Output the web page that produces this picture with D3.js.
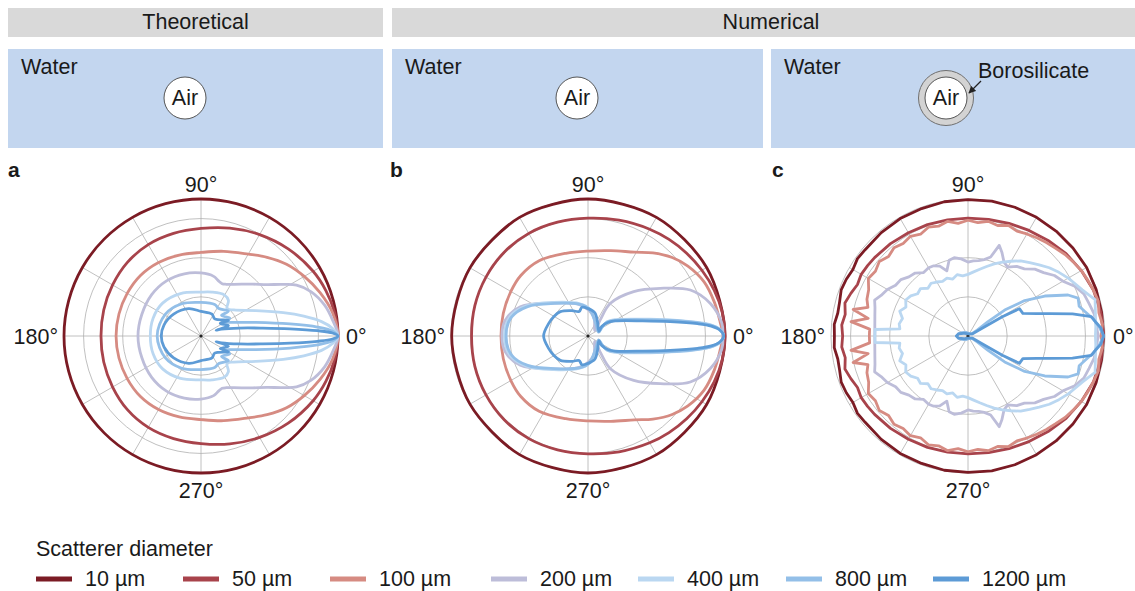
<!DOCTYPE html>
<html>
<head>
<meta charset="utf-8">
<script src="https://cdn.jsdelivr.net/npm/d3@7/dist/d3.min.js"></script>
<style>
  body { margin: 0; background: #fff; }
  text { font-family: "Liberation Sans", Arial, sans-serif; fill: #1a1a1a; }
</style>
</head>
<body>
<div id="chart"></div>
<script>
// Data
//================================
var diameters = ["10 µm", "50 µm", "100 µm", "200 µm", "400 µm", "800 µm", "1200 µm"];
var panelTitles = ["Theoretical", "Numerical"];
var panelLetters = ["a", "b", "c"];
var angleTicks = [0, 90, 180, 270];
var spokeAngles = [0, 30, 60, 90, 120, 150, 180, 210, 240, 270, 300, 330];
// rings at -30, -20, -10, 0 dB on a -35..0 dB axis (relative radius)
var ringLevels = [2 / 7, 4 / 7, 6 / 7, 1];

// each curve: [angle in degrees, relative radius] from 0 to 180 (pattern is mirror symmetric)
// a: theoretical
var theo10 = [[0, 1], [15, 1], [30, 1], [45, 1], [60, 1], [75, 1], [90, 1], [105, 1], [120, 1], [135, 1], [150, 1], [165, 1], [180, 1]];
var theo50 = [[0, 1], [10, 0.99], [20, 0.97], [30, 0.945], [45, 0.9], [60, 0.855], [75, 0.815], [90, 0.785], [105, 0.775], [120, 0.77], [135, 0.76], [150, 0.745], [165, 0.735], [180, 0.73]];
var theo100 = [[0, 1], [10, 0.975], [20, 0.925], [30, 0.87], [40, 0.815], [50, 0.75], [60, 0.69], [75, 0.64], [90, 0.61], [105, 0.612], [120, 0.62], [135, 0.625], [150, 0.622], [165, 0.62], [180, 0.62]];
var theo200 = [[0, 1], [7, 0.967], [14, 0.93], [22, 0.865], [28, 0.79], [32, 0.71], [38, 0.61], [45, 0.535], [52, 0.48], [58, 0.445], [64, 0.42], [68, 0.412], [73, 0.425], [78, 0.445], [90, 0.46], [105, 0.47], [122, 0.475], [140, 0.47], [160, 0.46], [180, 0.46]];
var theo400 = [[0, 1], [3.3, 0.962], [6.8, 0.886], [10.9, 0.764], [15.8, 0.624], [24.8, 0.441], [38.4, 0.306], [46.5, 0.276], [52.4, 0.328], [60.5, 0.345], [76, 0.33], [90, 0.32], [115.8, 0.344], [139.4, 0.369], [159.6, 0.373], [180, 0.37]];
var theo800 = [[0, 1], [2.1, 0.961], [4.4, 0.852], [7.7, 0.656], [14, 0.412], [24.4, 0.242], [31.7, 0.2], [31.8, 0.247], [45, 0.212], [42, 0.269], [57, 0.239], [66.5, 0.251], [90, 0.245], [120.8, 0.274], [148.4, 0.305], [180, 0.32]];
var theo1200 = [[0, 1], [1.3, 0.96], [2.6, 0.851], [4.6, 0.652], [7.3, 0.454], [11.7, 0.286], [18.4, 0.158], [20.9, 0.118], [20.6, 0.214], [33.3, 0.168], [29.9, 0.231], [51.3, 0.16], [63.4, 0.179], [90, 0.18], [114.2, 0.219], [141.3, 0.256], [163.5, 0.282], [180, 0.29]];

// b: numerical, air bubble
var num10 = [[0, 1], [15, 0.995], [30, 1], [45, 0.995], [60, 1], [75, 0.995], [90, 1], [105, 0.995], [120, 1], [135, 0.99], [150, 0.995], [165, 0.99], [180, 0.995]];
var num50 = [[0, 1], [10, 0.995], [20, 0.98], [30, 0.96], [40, 0.94], [50, 0.92], [60, 0.9], [75, 0.875], [90, 0.86], [105, 0.86], [120, 0.865], [135, 0.865], [150, 0.86], [165, 0.855], [180, 0.85]];
var num100 = [[0, 0.985], [6, 0.97], [15, 0.955], [25, 0.935], [35, 0.89], [43, 0.84], [52, 0.77], [61, 0.7], [75, 0.645], [90, 0.62], [105, 0.625], [123, 0.655], [138, 0.66], [150, 0.65], [165, 0.64], [180, 0.635]];
var num200 = [[0, 0.985], [5.4, 0.982], [14.9, 0.924], [24.2, 0.819], [33.4, 0.632], [44.2, 0.465], [55.6, 0.289], [53, 0.15], [38.7, 0.064], [73.8, 0.147], [104, 0.233], [139, 0.364], [156.6, 0.538], [169, 0.614], [180, 0.628]];
var num400 = [[0, 0.99], [3, 0.961], [5.1, 0.904], [7.1, 0.806], [10, 0.66], [15.2, 0.466], [31, 0.233], [36.9, 0.175], [31, 0.117], [20.6, 0.085], [56.3, 0.108], [87, 0.2], [104.3, 0.243], [135.6, 0.35], [153.9, 0.5], [166.2, 0.587], [180, 0.61]];
var num800 = [[0, 0.99], [2.9, 0.961], [4.9, 0.903], [6.9, 0.806], [9.8, 0.66], [14.7, 0.465], [30, 0.228], [36, 0.17], [30, 0.112], [20, 0.082], [57, 0.105], [87, 0.195], [104, 0.238], [136, 0.342], [154, 0.49], [166.5, 0.577], [180, 0.598]];
var num1200 = [[0, 0.99], [2.7, 0.961], [4.6, 0.903], [6.4, 0.805], [9.9, 0.609], [15.4, 0.415], [28.8, 0.228], [33.7, 0.18], [35, 0.122], [23.6, 0.087], [55, 0.122], [73.6, 0.177], [90, 0.2], [101.9, 0.214], [110, 0.19], [122.3, 0.219], [138.6, 0.269], [150.6, 0.287], [162.2, 0.301], [180, 0.324]];

// c: numerical, air in borosilicate shell
var shell10 = [[0, 0.99], [10, 0.99], [20, 0.995], [30, 1], [40, 1], [50, 1], [60, 1], [70, 1], [80, 1], [90, 0.995], [100, 0.995], [110, 0.99], [120, 0.99], [130, 0.985], [140, 0.98], [145, 0.985], [150, 0.97], [155, 0.98], [160, 0.985], [165, 0.97], [170, 0.965], [175, 0.98], [180, 0.975]];
var shell50 = [[0, 0.99], [10, 0.985], [20, 0.975], [30, 0.955], [40, 0.935], [50, 0.91], [60, 0.89], [70, 0.875], [80, 0.865], [90, 0.86], [100, 0.86], [110, 0.865], [120, 0.87], [130, 0.88], [140, 0.89], [145, 0.895], [150, 0.9], [155, 0.89], [160, 0.91], [165, 0.93], [170, 0.91], [175, 0.925], [180, 0.915]];
var shell100 = [[0, 0.97], [5, 0.985], [10, 0.97], [15, 0.985], [20, 0.975], [25, 0.965], [30, 0.955], [35, 0.94], [40, 0.925], [45, 0.905], [50, 0.89], [55, 0.875], [60, 0.86], [65, 0.845], [70, 0.86], [75, 0.835], [80, 0.85], [85, 0.83], [90, 0.845], [95, 0.825], [100, 0.85], [105, 0.83], [110, 0.845], [115, 0.82], [120, 0.84], [125, 0.825], [130, 0.84], [135, 0.82], [140, 0.845], [145, 0.825], [150, 0.84], [155, 0.8], [160, 0.785], [164, 0.76], [167, 0.86], [170, 0.74], [173, 0.86], [176, 0.72], [180, 0.72]];
var shell200 = [[0, 0.95], [5, 0.94], [10, 0.935], [15, 0.915], [20, 0.9], [25, 0.86], [30, 0.8], [35, 0.77], [40, 0.72], [45, 0.69], [50, 0.64], [55, 0.62], [60, 0.58], [64, 0.6], [68, 0.66], [71, 0.7], [74, 0.6], [78, 0.57], [82, 0.555], [86, 0.55], [90, 0.54], [95, 0.565], [100, 0.58], [104, 0.57], [108, 0.5], [112, 0.55], [116, 0.57], [120, 0.575], [125, 0.565], [130, 0.6], [135, 0.61], [140, 0.64], [145, 0.645], [150, 0.68], [155, 0.7], [159, 0.73], [163, 0.71], [168, 0.695], [174, 0.684], [180, 0.68]];
var shell400 = [[0, 0.93], [4, 0.935], [8, 0.94], [12, 0.95], [16, 0.965], [19, 0.93], [22, 0.9], [26, 0.87], [30, 0.845], [35, 0.81], [40, 0.775], [45, 0.735], [50, 0.7], [55, 0.67], [60, 0.63], [65, 0.595], [70, 0.56], [75, 0.525], [80, 0.495], [85, 0.47], [90, 0.45], [95, 0.44], [100, 0.455], [105, 0.43], [110, 0.45], [115, 0.44], [120, 0.455], [125, 0.47], [130, 0.455], [135, 0.49], [140, 0.48], [145, 0.51], [150, 0.525], [155, 0.5], [160, 0.53], [165, 0.495], [170, 0.51], [174, 0.5], [176, 0.68], [180, 0.68]];
var shell800 = [[0, 0.99], [4, 0.96], [8, 0.92], [12, 0.87], [15, 0.84], [19, 0.85], [22.3, 0.789], [27.5, 0.632], [32, 0.488], [35.3, 0.328], [35.7, 0.18], [33, 0.08], [30, 0.03], [60, 0.02], [120, 0.03], [150, 0.05], [165, 0.07], [180, 0.08]];
var shell1200 = [[0, 0.99], [3.5, 0.972], [6, 0.94], [8.9, 0.911], [12, 0.78], [15.2, 0.622], [18, 0.527], [22.4, 0.433], [28, 0.425], [29.2, 0.287], [28.8, 0.114], [26.6, 0.034], [90, 0.015], [146, 0.036], [168, 0.072], [180, 0.085]];

// Styles and layout
//================================
var colors = ["#7b1b24", "#a8434b", "#d68b82", "#bdbdd9", "#bad7f1", "#93bfe8", "#5d9bd6"];
var fontSize = "21.5px";

var svgWidth = 1135;
var svgHeight = 591;
var radius = 137;
var centerY = 336;

var panels = [
  { cx: 201, letterX: 8, curves: [theo10, theo50, theo100, theo200, theo400, theo800, theo1200], smooth: true },
  { cx: 588, letterX: 390, curves: [num10, num50, num100, num200, num400, num800, num1200], smooth: true },
  { cx: 968, letterX: 772, curves: [shell10, shell50, shell100, shell200, shell400, shell800, shell1200], smooth: false }
];

var svg = d3.select("#chart")
  .append("svg")
  .attr("width", svgWidth)
  .attr("height", svgHeight);

// Header bars and sketches
//================================
var header = svg.append("g");

header.append("rect").attr("x", 8).attr("y", 8).attr("width", 375).attr("height", 29).attr("fill", "#d9d9d9");
header.append("rect").attr("x", 392).attr("y", 8).attr("width", 760).attr("height", 29).attr("fill", "#d9d9d9");
header.append("text").attr("x", 195.5).attr("y", 29).attr("text-anchor", "middle")
  .style("font-size", fontSize).text(panelTitles[0]);
header.append("text").attr("x", 771).attr("y", 29).attr("text-anchor", "middle")
  .style("font-size", fontSize).text(panelTitles[1]);

var boxes = [
  { x: 8, w: 375, air: 185 },
  { x: 392, w: 371, air: 577 },
  { x: 771, w: 380, air: 946 }
];

boxes.forEach(function(b, i) {
  header.append("rect")
    .attr("x", b.x).attr("y", 49)
    .attr("width", b.w).attr("height", 99)
    .attr("fill", "#c3d6ef");

  header.append("text")
    .attr("x", b.x + 13).attr("y", 74)
    .style("font-size", fontSize)
    .text("Water");

  if (i === 2) {
    header.append("circle")
      .attr("cx", b.air).attr("cy", 98).attr("r", 27.5)
      .attr("fill", "#d3d3d3").attr("stroke", "#6f6f6f").attr("stroke-width", 1);
  }
  header.append("circle")
    .attr("cx", b.air).attr("cy", 98).attr("r", 21)
    .attr("fill", "#fff").attr("stroke", "#555").attr("stroke-width", 1);

  header.append("text")
    .attr("x", b.air).attr("y", 105)
    .attr("text-anchor", "middle")
    .style("font-size", fontSize)
    .text("Air");
});

svg.append("defs").append("marker")
  .attr("id", "arrow")
  .attr("viewBox", "0 0 10 10")
  .attr("refX", 9).attr("refY", 5)
  .attr("markerWidth", 6).attr("markerHeight", 6)
  .attr("orient", "auto")
  .append("path")
  .attr("d", "M0,0 L10,5 L0,10 z")
  .attr("fill", "#222");

header.append("line")
  .attr("x1", 981).attr("y1", 81)
  .attr("x2", 969).attr("y2", 93)
  .attr("stroke", "#222").attr("stroke-width", 1.2)
  .attr("marker-end", "url(#arrow)");

header.append("text")
  .attr("x", 978).attr("y", 78)
  .style("font-size", fontSize)
  .text("Borosilicate");

// Polar plots
//================================
var rScale = d3.scaleLinear().domain([0, 1]).range([0, radius]);
// math angle (ccw from +x) -> d3 radial angle (cw from top)
var aScale = d3.scaleLinear().domain([0, 360]).range([Math.PI / 2, Math.PI / 2 - 2 * Math.PI]);

function mirror(half) {
  var lower = half.slice(1, -1).reverse().map(function(d) { return [360 - d[0], d[1]]; });
  return half.concat(lower);
}

panels.forEach(function(p, pi) {
  var g = svg.append("g").attr("transform", `translate(${p.cx}, ${centerY})`);

  // grid
  g.selectAll(".ring")
    .data(ringLevels)
    .enter()
    .append("circle")
    .attr("r", d => rScale(d))
    .attr("fill", "none")
    .attr("stroke", "#b0b0b0")
    .attr("stroke-width", 0.8);

  g.selectAll(".spoke")
    .data(spokeAngles)
    .enter()
    .append("line")
    .attr("x1", 0).attr("y1", 0)
    .attr("x2", d => rScale(1) * Math.sin(aScale(d)))
    .attr("y2", d => -rScale(1) * Math.cos(aScale(d)))
    .attr("stroke", "#b0b0b0")
    .attr("stroke-width", 0.8);

  g.append("circle").attr("r", 1.6).attr("fill", "#222");

  var line = d3.lineRadial()
    .angle(d => aScale(d[0]))
    .radius(d => rScale(d[1]))
    .curve(p.smooth ? d3.curveCatmullRomClosed.alpha(0.5) : d3.curveLinearClosed);

  g.selectAll(".curve")
    .data(p.curves)
    .enter()
    .append("path")
    .attr("d", d => line(mirror(d)))
    .attr("fill", "none")
    .attr("stroke", (d, i) => colors[i])
    .attr("stroke-width", 2.8)
    .attr("stroke-linejoin", "round");

  // angle labels
  g.selectAll(".alabel")
    .data(angleTicks)
    .enter()
    .append("text")
    .attr("x", function(d) {
      if (d === 0) return radius + 8;
      if (d === 180) return -radius - 6;
      return 0;
    })
    .attr("y", function(d) {
      if (d === 90) return -radius - 7;
      if (d === 270) return radius + 25;
      return 7.5;
    })
    .attr("text-anchor", function(d) {
      if (d === 0) return "start";
      if (d === 180) return "end";
      return "middle";
    })
    .style("font-size", fontSize)
    .text(d => d + "°");

  svg.append("text")
    .attr("x", p.letterX).attr("y", 177)
    .style("font-size", "21px")
    .style("font-weight", "bold")
    .text(panelLetters[pi]);
});

// Legend
//================================
var legend = svg.append("g");
var legendX = [36, 183, 330, 491, 638, 786, 933];

legend.append("text")
  .attr("x", 36).attr("y", 556)
  .style("font-size", fontSize)
  .text("Scatterer diameter");

var items = legend.selectAll(".item")
  .data(diameters)
  .enter()
  .append("g")
  .attr("transform", (d, i) => `translate(${legendX[i]}, 579)`);

items.append("line")
  .attr("x1", 0).attr("x2", 36)
  .attr("stroke", (d, i) => colors[i])
  .attr("stroke-width", 5);

items.append("text")
  .attr("x", 49).attr("y", 7)
  .style("font-size", fontSize)
  .text(d => d);
</script>
</body>
</html>
